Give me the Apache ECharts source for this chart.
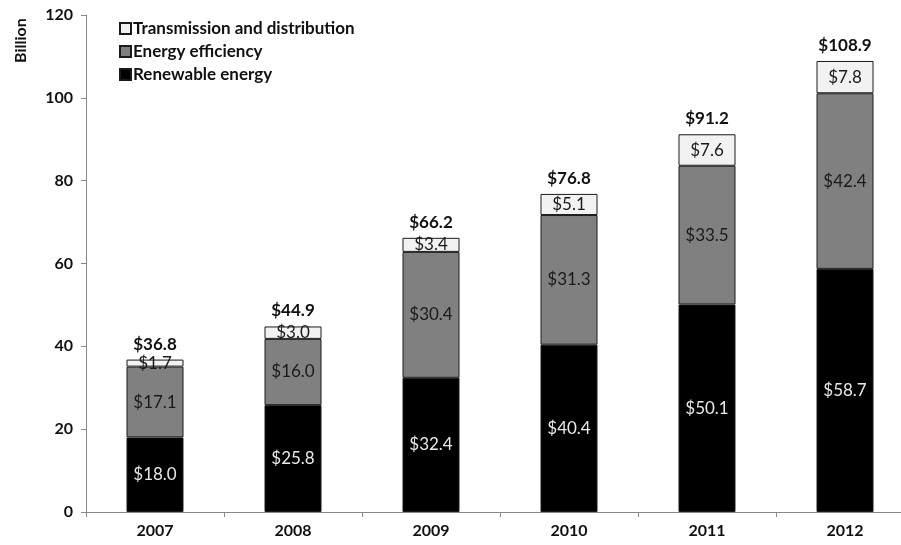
<!DOCTYPE html>
<html><head><meta charset="utf-8">
<script src="https://cdn.jsdelivr.net/npm/echarts@6/dist/echarts.min.js"></script>
<style>html,body{margin:0;padding:0;background:#fff;overflow:hidden}#c{width:914px;height:545px}</style>
</head><body><div id="c"></div>
<script>
const years = ['2007','2008','2009','2010','2011','2012'];
const renewable = [18.0, 25.8, 32.4, 40.4, 50.1, 58.7];
const efficiency = [17.1, 16.0, 30.4, 31.3, 33.5, 42.4];
const transmission = [1.7, 3.0, 3.4, 5.1, 7.6, 7.8];
const totals = [36.8, 44.9, 66.2, 76.8, 91.2, 108.9];
const yTicks = [0, 20, 40, 60, 80, 100, 120];

const FONT = 'Lato';
const chart = echarts.init(document.getElementById('c'), null, {renderer:'canvas'});
const fmt = p => '$' + p.value.toFixed(1);
const border = {borderColor:'#1a1a1a', borderWidth:1};
chart.setOption({
  animation:false,
  textStyle:{fontFamily:FONT},
  grid:{left:86, top:15, bottom:33, right:0},
  legend:{
    orient:'vertical', left:114, top:15, itemWidth:11, itemHeight:11, itemGap:6,
    data:['Transmission and distribution','Energy efficiency','Renewable energy'],
    textStyle:{fontFamily:FONT, fontWeight:'bold', fontSize:17, color:'#111', padding:[0,0,0,-3]},
    icon:'rect'
  },
  graphic:[{type:'text', x:13, y:63, rotation:Math.PI/2,
    style:{text:'Billion', font:'bold 16px '+FONT, fill:'#111', textAlign:'left', textVerticalAlign:'top'}}],
  xAxis:{type:'category', data:years,
    axisLine:{lineStyle:{color:'#888'}},
    axisTick:{show:true, length:5, lineStyle:{color:'#888'}},
    axisLabel:{fontFamily:FONT, fontWeight:'bold', fontSize:16, color:'#111', margin:11}},
  yAxis:{type:'value', min:yTicks[0], max:yTicks[yTicks.length-1], interval:20,
    splitLine:{show:false},
    axisLine:{show:true, lineStyle:{color:'#888'}},
    axisTick:{show:true, length:5, lineStyle:{color:'#888'}},
    axisLabel:{fontFamily:FONT, fontWeight:'bold', fontSize:16, color:'#111', margin:13}},
  series:[
    {name:'Renewable energy', type:'bar', stack:'s', data:renewable, barWidth:57,
     itemStyle:Object.assign({color:'#000'}, border),
     label:{show:true, position:'inside', formatter:fmt, fontFamily:FONT, fontSize:17, color:'#e8e8e8'}},
    {name:'Energy efficiency', type:'bar', stack:'s', data:efficiency,
     itemStyle:Object.assign({color:'#808080'}, border),
     label:{show:true, position:'inside', formatter:fmt, fontFamily:FONT, fontSize:17, color:'#1a1a1a'}},
    {name:'Transmission and distribution', type:'bar', stack:'s', data:transmission,
     itemStyle:Object.assign({color:'#f2f2f2'}, border),
     label:{show:true, position:'inside', formatter:fmt, fontFamily:FONT, fontSize:17, color:'#1a1a1a'}},
    {name:'total', type:'bar', stack:'s', data:totals.map(()=>0), silent:true,
     itemStyle:{color:'transparent', borderWidth:0},
     label:{show:true, position:'top', distance:7, formatter:p=>'$'+totals[p.dataIndex].toFixed(1),
       fontFamily:FONT, fontWeight:'bold', fontSize:17, color:'#111'}}
  ]
});
</script></body></html>
